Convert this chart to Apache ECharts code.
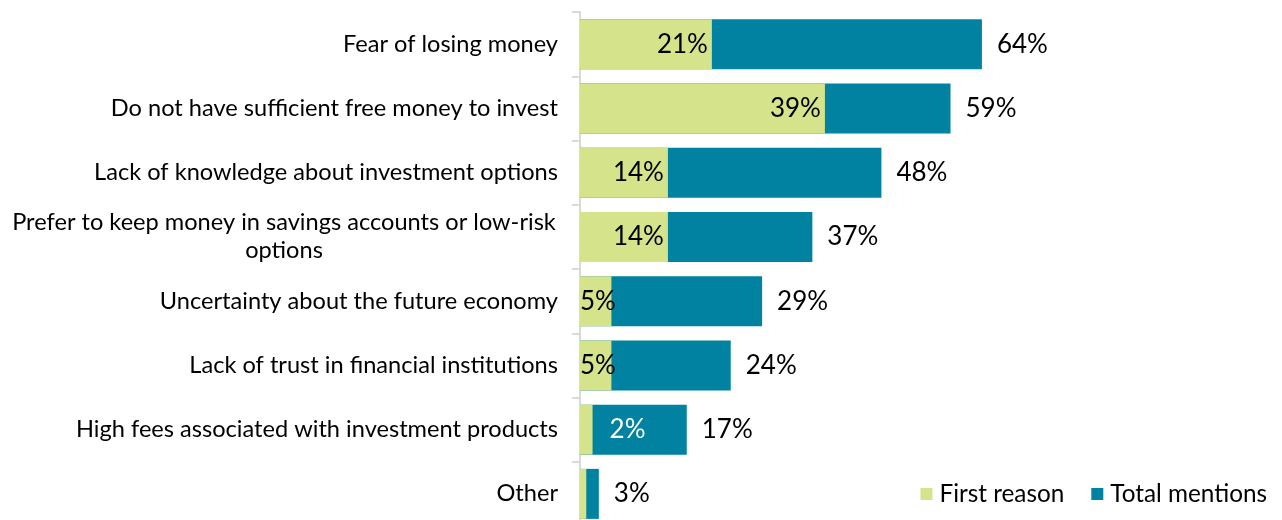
<!DOCTYPE html>
<html>
<head>
<meta charset="utf-8">
<script src="https://cdn.jsdelivr.net/npm/echarts@6/dist/echarts.min.js"></script>
<style>
  html, body { margin: 0; padding: 0; background: #fff; }
  #chart { width: 1282px; height: 520px; }
</style>
</head>
<body>
<div id="chart"></div>
<script>
// categories, top to bottom
const reasons = [
  'Fear of losing money',
  'Do not have sufficient free money to invest',
  'Lack of knowledge about investment options',
  'Prefer to keep money in savings accounts or low-risk\noptions',
  'Uncertainty about the future economy',
  'Lack of trust in financial institutions',
  'High fees associated with investment products',
  'Other'
]
const firstReason   = [21, 39, 14, 14, 5, 5, 2, 1]
const totalMentions = [64, 59, 48, 37, 29, 24, 17, 3]

const GREEN = '#d5e38b'
const TEAL  = '#0082a0'
const FONT  = 'Lato'

// labels for the small first-reason bars sit differently (like the source)
const firstData = firstReason.map((v, i) => {
  let item = { value: v }
  if (v === 5) {
    item.label = { position: 'insideLeft', distance: 0 }
  } else if (v === 2) {
    item.label = { position: 'right', distance: 17, color: '#fff' }
  } else if (v < 2) {
    item.label = { show: false }
  }
  return item
})

const chart = echarts.init(document.getElementById('chart'))

chart.setOption({
  animation: false,
  textStyle: { fontFamily: FONT },
  grid: { left: 580, right: 74, top: 12, height: 514, containLabel: false, outerBoundsMode: 'none' },
  legend: {
    data: ['First reason', 'Total mentions'],
    right: 10,
    top: 477,
    icon: 'rect',
    itemWidth: 12,
    itemHeight: 12,
    itemGap: 27,
    textStyle: { fontFamily: FONT, fontSize: 24.3, color: '#000', padding: [0, 0, 0, 2] }
  },
  xAxis: {
    type: 'value',
    min: 0,
    max: 100,
    show: false
  },
  yAxis: {
    type: 'category',
    data: reasons,
    inverse: true,
    axisLine: { lineStyle: { color: '#d9d9d9', width: 2 } },
    axisTick: { show: true, length: 8, lineStyle: { color: '#d9d9d9', width: 2 } },
    axisLabel: {
      margin: 22,
      fontFamily: FONT,
      fontSize: 23.6,
      color: '#000',
      formatter: function (val) {
        if (val.indexOf('\n') >= 0) {
          const parts = val.split('\n')
          return '{c|' + parts[0] + '}\n{c|' + parts[1] + '}'
        }
        return val
      },
      rich: {
        c: { width: 548, align: 'center', fontFamily: FONT, fontSize: 23.6, color: '#000', lineHeight: 28 }
      }
    }
  },
  series: [
    {
      name: 'Total mentions',
      type: 'bar',
      data: totalMentions,
      barWidth: 50,
      itemStyle: { color: TEAL },
      label: {
        show: true,
        position: 'right',
        distance: 15,
        formatter: '{c}%',
        fontFamily: FONT,
        fontSize: 26,
        color: '#000'
      }
    },
    {
      name: 'First reason',
      type: 'bar',
      data: firstData,
      barWidth: 50,
      barGap: '-100%',
      itemStyle: { color: GREEN },
      label: {
        show: true,
        position: 'insideRight',
        distance: 4,
        formatter: '{c}%',
        fontFamily: FONT,
        fontSize: 26,
        color: '#000'
      }
    }
  ]
})
</script>
</body>
</html>
